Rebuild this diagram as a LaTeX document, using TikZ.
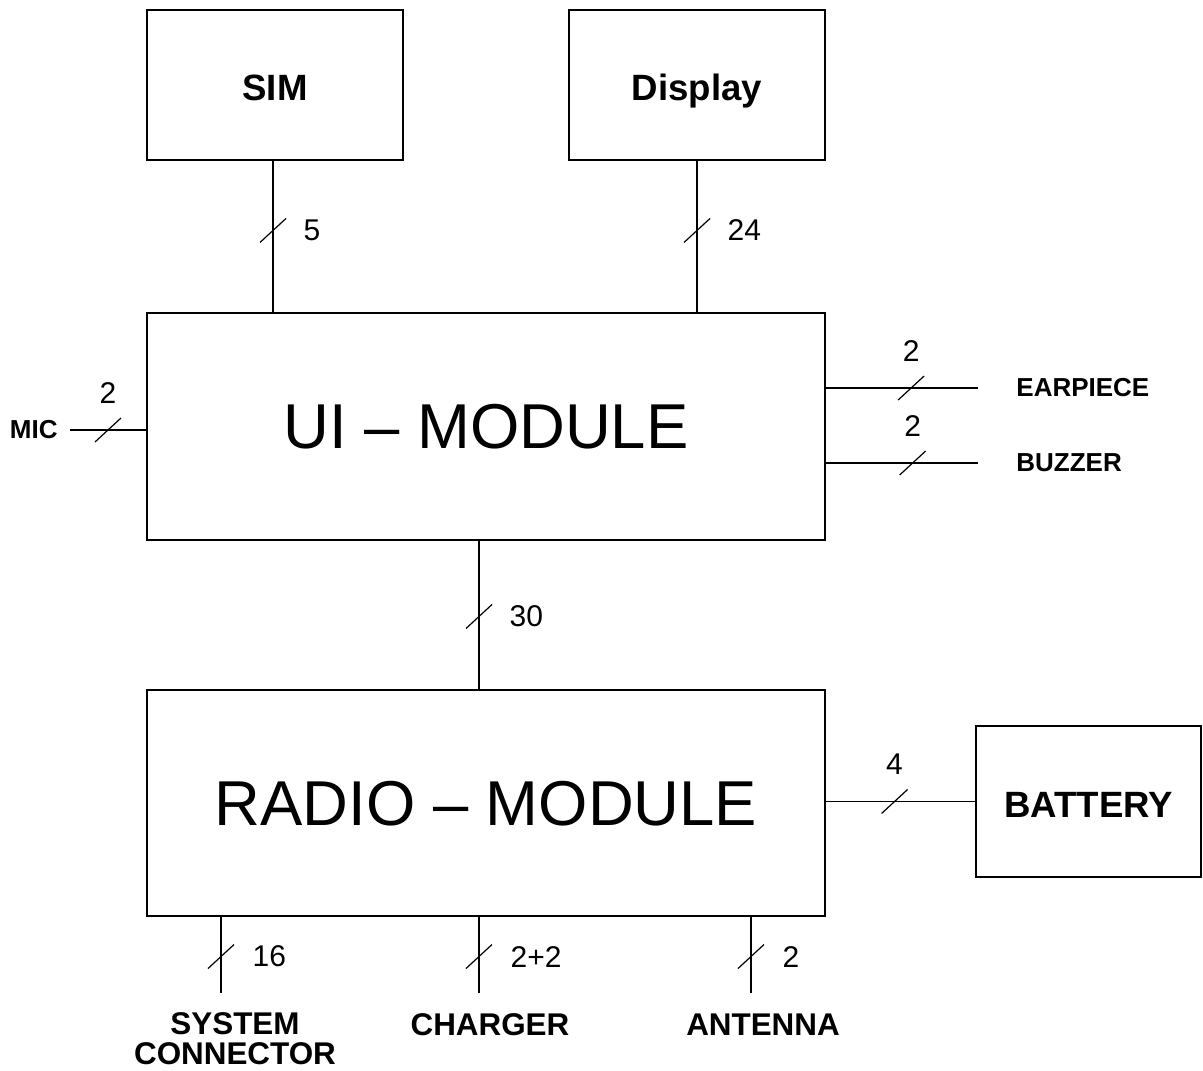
\documentclass[tikz,border=0pt]{standalone}
\usepackage{fontspec}
\setmainfont{Liberation Sans}
\usetikzlibrary{positioning}

\tikzset{
  slash/.pic={\draw[line width=0.6pt] (-6.5pt,-6pt) -- (6.5pt,6pt);}
}

\begin{document}
\begin{tikzpicture}[
x=0.5pt, y=-0.5pt,
box/.style={
draw,
line width=1pt,
inner sep=0pt,
text depth=0pt
},
smallbox/.style={
box,
minimum width=128pt,
minimum height=75pt,
text height=16pt,
font=\fontsize{18.3}{22}\selectfont\bfseries
},
bigbox/.style={
box,
minimum width=339pt,
minimum height=113.5pt,
font=\fontsize{31.7}{38}\selectfont
},
wire/.style={line width=0.6pt},
count/.style={font=\fontsize{15}{18}\selectfont, inner sep=0pt},
port/.style={font=\fontsize{13}{15}\selectfont\bfseries, inner sep=0pt},
portbig/.style={font=\fontsize{15.7}{15}\selectfont\bfseries, inner sep=0pt, align=center}
]
\useasboundingbox (0,0) rectangle (1203,1070);

% Blocks
\node[smallbox] (sim) at (275,85) {SIM};
\node[smallbox] (display) at (697,85) {Display};
\node[bigbox] (ui) at (486,426.5) {UI -- MODULE};
\node[bigbox, minimum height=113pt] (radio) at (486,803) {RADIO -- MODULE};
\node[smallbox, minimum width=112.5pt, minimum height=75.5pt] (battery) at (1088.5,801.5) {BATTERY};

% Free ends and their labels
\coordinate (micend) at (70,430);
\coordinate (earend) at (978,388);
\coordinate (buzend) at (978,463);
\coordinate (sysend) at (221,993);
\coordinate (chgend) at (479,993);
\coordinate (antend) at (751,993);

\node[port, left=6pt of micend] (mic) {MIC};
\node[port, right=19pt of earend] (earpiece) {EARPIECE};
\node[port, right=19pt of buzend] (buzzer) {BUZZER};
\node[portbig, below=9.5pt of sysend, xshift=7pt] (sysconn) {SYSTEM\\CONNECTOR};
\node[portbig, below=10pt of chgend, xshift=5.5pt] (charger) {CHARGER};
\node[portbig, below=10pt of antend, xshift=6pt] (antenna) {ANTENNA};

% Buses
\draw[wire] ([xshift=-1pt]sim.south) -- pic[pos=.46]{slash} node[count, pos=.46, right=15pt] {5} ([xshift=-1pt]sim.south |- ui.north);
\draw[wire] (display.south) -- pic[pos=.46]{slash} node[count, pos=.46, right=15pt] {24} (display.south |- ui.north);
\draw[wire] ([xshift=-3.5pt]ui.south) -- pic[pos=.51]{slash} node[count, pos=.51, right=15pt] {30} ([xshift=-3.5pt]ui.south |- radio.north);
\draw[wire] (micend) -- pic[pos=.5]{slash} node[count, pos=.5, above=13pt] {2} (micend -| ui.west);
\draw[wire] (ui.east |- earend) -- pic[pos=.56]{slash} node[count, pos=.56, above=13pt] {2} (earend);
\draw[wire] (ui.east |- buzend) -- pic[pos=.57]{slash} node[count, pos=.57, above=13pt] {2} (buzend);
\draw[wire] (radio.east |- battery.west) -- pic[pos=.46]{slash} node[count, pos=.46, above=13pt] {4} (battery.west);
\draw[wire] (radio.south -| sysend) -- pic[pos=.52]{slash} node[count, pos=.52, right=15.5pt] {16} (sysend);
\draw[wire] (radio.south -| chgend) -- pic[pos=.52]{slash} node[count, pos=.52, right=15.5pt] {2+2} (chgend);
\draw[wire] (radio.south -| antend) -- pic[pos=.52]{slash} node[count, pos=.52, right=15.5pt] {2} (antend);

\end{tikzpicture}
\end{document}
